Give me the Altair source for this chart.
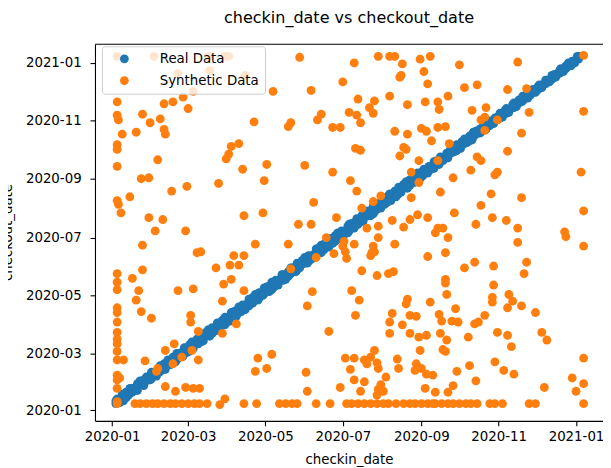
import altair as alt
import pandas as pd

# ---------------- data (day offsets from 2020-01-01) ----------------
series_names = ["Real Data", "Synthetic Data"]
series_colors = ["#1f77b4", "#ff7f0e"]
tick_months = [(2020, 1), (2020, 3), (2020, 5), (2020, 7), (2020, 9), (2020, 11), (2021, 1)]

real_checkin_day = [
    3, 4, 6, 8, 9, 11, 13, 14, 16, 19, 20, 22, 24, 25, 27, 30, 31, 33, 35, 37, 38, 41, 42, 44, 46,
    48, 50, 51, 53, 56, 57, 59, 61, 63, 64, 67, 68, 70, 72, 74, 76, 77, 79, 82, 83, 85, 87, 89, 90,
    93, 94, 96, 98, 100, 102, 103, 105, 108, 109, 111, 113, 115, 116, 119, 120, 122, 124, 126, 128,
    129, 131, 134, 135, 137, 139, 141, 142, 145, 146, 148, 150, 152, 154, 155, 157, 160, 161, 163,
    165, 167, 168, 171, 172, 174, 176, 178, 180, 181, 183, 186, 187, 189, 191, 193, 194, 197, 198,
    200, 202, 204, 206, 207, 209, 212, 213, 215, 217, 219, 220, 223, 224, 226, 228, 230, 232, 233,
    235, 238, 239, 241, 243, 245, 246, 249, 250, 252, 254, 256, 258, 259, 261, 264, 265, 267, 269,
    271, 272, 275, 276, 278, 280, 282, 284, 285, 287, 290, 291, 293, 295, 297, 298, 301, 302, 304,
    306, 308, 310, 311, 313, 316, 317, 319, 321, 323, 324, 327, 328, 330, 332, 334, 336, 337, 339,
    342, 343, 345, 347, 349, 350, 353, 354, 356, 358, 360, 362, 363, 365, 367, 368,
]
real_stay_days = [
    4, 5, 6, 3, 5, 2, 7, 4, 3, 6, 1, 5, 3, 7, 4, 6, 2, 4, 5, 8, 3, 2, 6, 4, 5, 3, 7, 2, 4, 6, 3, 5,
    1, 4, 7, 3, 5, 2, 6, 4, 3, 6, 2, 5, 4, 7, 3, 1, 5, 6, 4, 2, 7, 3, 5, 4, 6, 2, 3, 8, 4, 5, 2, 6,
    3, 4, 7, 1, 5, 3, 6, 4, 2, 5, 7, 3, 4, 6, 2, 5, 4, 3, 7, 2, 6, 5, 3, 4, 1, 6, 4, 7, 3, 5, 2, 4,
    6, 3, 5, 8, 2, 4, 6, 3, 5, 2, 7, 4, 3, 6, 1, 5, 3, 7, 4, 6, 2, 4, 5, 3, 6, 2, 5, 4, 3, 7, 2, 6,
    4, 3, 5, 2, 4, 6, 3, 5, 1, 4, 6, 3, 5, 2, 6, 4, 3, 5, 2, 4, 6, 3, 4, 2, 5, 3, 4, 6, 2, 4, 3, 5,
    2, 4, 3, 5, 2, 4, 3, 2, 4, 3, 2, 4, 3, 5, 2, 3, 4, 2, 3, 4, 2, 3, 4, 2, 3, 3, 2, 4, 3, 2, 4, 3,
    2, 3, 4, 2, 3, 4, 2, 3,
]
real_stay_days_b = [
    7, 8, 2, 9, 1, 8, 3, 9, 7, 2, 8, 9, 6, 1, 8, 2, 9, 7, 1, 3, 9, 8, 1, 9, 2, 8, 1, 9, 7, 1, 9, 2,
    8, 9, 1, 8, 2, 9, 1, 8, 9, 1, 8, 2, 9, 1, 8, 9, 2, 1, 9, 8, 1, 9, 2, 8, 1, 9, 8, 2, 9, 1, 8, 2,
    9, 8, 1, 9, 2, 8, 1, 9, 8, 1, 2, 9, 8, 1, 9, 2, 8, 9, 1, 8, 2, 1, 9, 8, 9, 2, 8, 1, 9, 2, 8, 9,
    1, 8, 2, 1, 9, 8, 1, 9, 2, 8, 1, 9, 8, 1, 9, 2, 8, 1, 9, 2, 8, 9, 1, 8, 1, 9, 2, 8, 9, 1, 8, 2,
    8, 9, 1, 7, 8, 1, 7, 2, 8, 7, 1, 8, 2, 7, 1, 8, 7, 2, 8, 1, 7, 8, 2, 7, 1, 8, 7, 2, 6, 7, 1, 6,
    7, 1, 6, 2, 7, 1, 6, 7, 1, 6, 7, 1, 6, 2, 7, 6, 1, 7, 6, 1, 5, 6, 1, 6, 5, 1, 6, 5, 1, 5, 6, 1,
    5, 6, 1, 5, 1, 6, 5, 1,
]

# (checkin day, checkout day)
synthetic_points = [
    (4, 325), (4, 311), (5, 306), (8, 291), (4, 280), (4, 275), (4, 257), (24, 312), (30, 303),
    (19, 293), (38, 307), (41, 323), (48, 325), (56, 330), (64, 336), (60, 318), (41, 296), (42, 291),
    (36, 264), (112, 304), (94, 278), (100, 281), (92, 270), (90, 265), (103, 254),
    (4, 373), (33, 373), (76, 373), (89, 373), (92, 373), (77, 358), (52, 355), (105, 353),
    (148, 372), (191, 366), (210, 373), (219, 373), (223, 373), (243, 370), (251, 373), (229, 365),
    (228, 353), (227, 351), (246, 357), (249, 344), (182, 346), (127, 336), (157, 337), (219, 331),
    (233, 322), (247, 325), (194, 328), (207, 326), (203, 319), (206, 313), (187, 314), (193, 311),
    (196, 303), (165, 312), (162, 306), (141, 303), (139, 299), (174, 298), (180, 298), (223, 294),
    (233, 291), (244, 297), (248, 294), (252, 284), (192, 276), (196, 274), (230, 277), (232, 275),
    (227, 268), (242, 263), (122, 259), (152, 258), (174, 251),
    (274, 364), (320, 367), (372, 374), (278, 340), (288, 343), (265, 331), (257, 325), (258, 317),
    (312, 338), (327, 339), (284, 316), (295, 319), (294, 309), (291, 306), (304, 306), (329, 314),
    (372, 315), (257, 298), (263, 299), (294, 295), (323, 292), (266, 281), (312, 273), (288, 267),
    (291, 263), (257, 263),
    (283, 253), (304, 251), (302, 248), (370, 251), (269, 245), (259, 230), (299, 228), (323, 224),
    (291, 216), (270, 208), (372, 210), (300, 203), (311, 200), (287, 196), (320, 192), (257, 192),
    (261, 192), (255, 187), (265, 182), (357, 188), (358, 183), (372, 173), (320, 177), (263, 166),
    (286, 156), (278, 150), (301, 152), (327, 156), (325, 144), (263, 138), (263, 134), (301, 132),
    (264, 122), (300, 119), (300, 114), (313, 122), (316, 115), (312, 108), (323, 110), (334, 103),
    (271, 107), (258, 101), (260, 94), (268, 94), (273, 93), (294, 100), (289, 93), (286, 91),
    (259, 81), (264, 74), (281, 77), (304, 82), (312, 79), (315, 67), (339, 82), (343, 74),
    (261, 64), (263, 62), (372, 55), (302, 51), (309, 42), (317, 38), (282, 47), (272, 41),
    (287, 31), (363, 34), (372, 28), (366, 20), (341, 24), (269, 26), (265, 19), (255, 19), (372, 7),
    (255, 7), (260, 7), (265, 7), (269, 7), (274, 7), (279, 7), (283, 7), (288, 7), (298, 7),
    (302, 7), (308, 7), (329, 7), (334, 7),
    (158, 125), (154, 110), (189, 126), (195, 116), (192, 100), (171, 83), (126, 59), (122, 44),
    (153, 40), (154, 20), (180, 24), (233, 117), (232, 112), (251, 114), (221, 102), (219, 93),
    (229, 90), (235, 100), (240, 99), (219, 81), (235, 81), (242, 77), (248, 79), (207, 63),
    (204, 56), (243, 63), (184, 55), (191, 55), (199, 53), (201, 49), (209, 50), (210, 44),
    (216, 35), (188, 43), (225, 54), (226, 44), (240, 49), (239, 42), (244, 44), (248, 38),
    (253, 37), (191, 32), (199, 30), (196, 20), (212, 27), (210, 22), (214, 20), (209, 16), (247, 23),
    (132, 7), (137, 7), (142, 7), (146, 7), (161, 7), (172, 7), (185, 7), (189, 7), (194, 7),
    (199, 7), (204, 7), (209, 7), (214, 7), (218, 7), (224, 7), (230, 7), (235, 7), (239, 7),
    (244, 7), (249, 7), (253, 7),
    (120, 242), (188, 242), (193, 231), (236, 251), (242, 240), (159, 219), (197, 213), (206, 220),
    (212, 226), (236, 224), (177, 203), (147, 196), (157, 196), (169, 182), (183, 178), (182, 173),
    (191, 175), (201, 192), (210, 194), (210, 182), (221, 200), (230, 193), (235, 201), (241, 206),
    (249, 203), (223, 175), (206, 173), (205, 166), (204, 163), (207, 167), (139, 175), (175, 165),
    (184, 167), (185, 160), (161, 161), (249, 162), (197, 147), (141, 149), (209, 142), (218, 144),
    (222, 146),
    (23, 244), (29, 245), (84, 239), (59, 236), (47, 231), (14, 225), (4, 221), (5, 217), (7, 208),
    (29, 203), (40, 201), (34, 189), (58, 189), (104, 205), (119, 208), (24, 174), (113, 175),
    (67, 166), (70, 167), (96, 163), (104, 163), (93, 153), (100, 153), (82, 150), (24, 148),
    (16, 139), (4, 144), (4, 135), (4, 127), (88, 133), (94, 138), (21, 126), (52, 126), (64, 128),
    (104, 126),
    (4, 108), (4, 103), (4, 93), (4, 82), (4, 75), (4, 70), (4, 62), (4, 53), (4, 37), (4, 32),
    (4, 23), (4, 9), (9, 53), (6, 34), (19, 116), (23, 104), (31, 97), (87, 115), (62, 100),
    (62, 93), (68, 83), (98, 91), (87, 81), (49, 70), (42, 63), (63, 63), (55, 56), (48, 49),
    (68, 53), (26, 52), (36, 44), (35, 41), (115, 55), (113, 41), (42, 25), (50, 20), (58, 24),
    (64, 23), (69, 23),
    (4, 7), (18, 7), (22, 7), (27, 7), (32, 7), (36, 7), (41, 7), (46, 7), (50, 7), (55, 7),
    (60, 7), (65, 7), (69, 7), (75, 7), (85, 6), (89, 12), (104, 7), (114, 7),
]

# ---------------- build table ----------------
base_day = pd.Timestamp("2020-01-01")


def to_date(d):
    return (base_day + pd.Timedelta(days=d)).strftime("%Y-%m-%d")


rows = []
for ci, st in zip(real_checkin_day, real_stay_days):
    rows.append({"checkin_date": to_date(ci), "checkout_date": to_date(ci + st), "series": series_names[0]})
for ci, st in zip(real_checkin_day, real_stay_days_b):
    rows.append({"checkin_date": to_date(ci), "checkout_date": to_date(ci + st), "series": series_names[0]})
for ci, co in synthetic_points:
    rows.append({"checkin_date": to_date(ci), "checkout_date": to_date(co), "series": series_names[1]})
df = pd.DataFrame(rows)

FONT = "DejaVu Sans"
W, H = 514, 381

tick_values = [alt.DateTime(year=y, month=m, date=1, utc=True) for y, m in tick_months]

x_scale = alt.Scale(
    type="utc",
    domain=[alt.DateTime(year=2019, month=12, date=18, hours=12, utc=True),
            alt.DateTime(year=2021, month=1, date=22, hours=7, utc=True)],
)
y_scale = alt.Scale(
    type="utc",
    domain=[alt.DateTime(year=2019, month=12, date=20, hours=20, utc=True),
            alt.DateTime(year=2021, month=1, date=20, hours=17, utc=True)],
)

points = alt.Chart(df).mark_circle(size=80, opacity=1).encode(
    x=alt.X("checkin_date:T", scale=x_scale,
            axis=alt.Axis(values=tick_values, format="%Y-%m", title="checkin_date",
                          titlePadding=10)),
    y=alt.Y("checkout_date:T", scale=y_scale,
            axis=alt.Axis(values=tick_values, format="%Y-%m", title="checkout_date",
                          titleX=-88, titleY=190, titleAngle=270, titleBaseline="middle",
                          titleAlign="center", labelPadding=9)),
    color=alt.Color("series:N",
                    scale=alt.Scale(domain=series_names, range=series_colors),
                    legend=alt.Legend(title=None, orient="none", legendX=7, legendY=2,
                                      fillColor="rgba(255,255,255,0.8)", strokeColor="#cccccc",
                                      cornerRadius=3, padding=6, rowPadding=7,
                                      symbolOffset=10, labelOffset=29, labelFontSize=13.5,
                                      labelFont=FONT, labelColor="black", symbolSize=80,
                                      symbolType="circle", symbolStrokeWidth=0,
                                      symbolOpacity=1)),
)

frame_top = alt.Chart(pd.DataFrame({"k": [0]})).mark_rule(color="black", strokeWidth=1.1).encode(
    x=alt.value(0), x2=alt.value(W), y=alt.value(0)
)

chart = alt.layer(points, frame_top).properties(
    width=W, height=H,
    title=alt.TitleParams("checkin_date vs checkout_date", font=FONT, fontSize=16.2,
                          fontWeight="normal", color="black", anchor="middle",
                          baseline="bottom", offset=2),
    autosize=alt.AutoSizeParams(type="none"),
    padding={"left": 88, "top": 34, "right": 0, "bottom": 44},
).configure_view(strokeWidth=0).configure_axis(
    grid=False, domainColor="black", domainWidth=1.1, tickColor="black", tickWidth=1.1,
    tickSize=5, labelFont=FONT, labelFontSize=13.5, labelColor="black", labelPadding=4,
    titleFont=FONT, titleFontSize=13.5, titleFontWeight="normal", titleColor="black",
)

chart.save("out.html", embed_options={"renderer": "svg", "actions": False})
